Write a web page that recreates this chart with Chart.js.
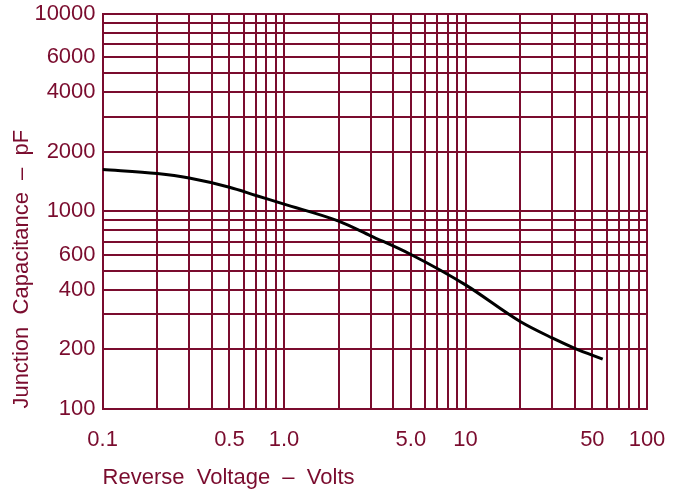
<!DOCTYPE html>
<html>
<head>
<meta charset="utf-8">
<script src="https://cdn.jsdelivr.net/npm/chart.js@4"></script>
<style>
  html, body { margin: 0; padding: 0; background: #fff; }
</style>
</head>
<body>
<canvas id="capChart" width="683" height="493"></canvas>
<script>
// curve
const voltage = [0.1, 0.2, 0.3, 0.5, 0.7, 1.0, 2.0, 3.0, 5.0, 10, 20, 30, 40, 57];
const capacitance = [1625, 1550, 1470, 1320, 1200, 1085, 890, 750, 603, 423, 276, 228, 202, 178];

// grid lines and tick labels
const xGrid = [0.1, 0.2, 0.3, 0.4, 0.5, 0.6, 0.7, 0.8, 0.9, 1, 2, 3, 4, 5, 6, 7, 8, 9, 10, 20, 30, 40, 50, 60, 70, 80, 90, 100];
const yGrid = [100, 200, 300, 400, 500, 600, 700, 800, 900, 1000, 2000, 3000, 4000, 5000, 6000, 7000, 8000, 9000, 10000];
const xTickValues = [0.1, 0.5, 1, 5, 10, 50, 100];
const xTickText = ['0.1', '0.5', '1.0', '5.0', '10', '50', '100'];
const yTickValues = [100, 200, 400, 600, 1000, 2000, 4000, 6000, 10000];

const maroon = '#7a0c2e';
const font = "'Liberation Sans', Arial, sans-serif";

new Chart(document.getElementById('capChart'), {
  type: 'line',
  data: {
    datasets: [{
      data: voltage.map((v, i) => ({ x: v, y: capacitance[i] })),
      borderColor: '#000',
      borderWidth: 3,
      pointRadius: 0,
      cubicInterpolationMode: 'monotone',
      fill: false
    }]
  },
  options: {
    responsive: false,
    animation: false,
    devicePixelRatio: 1,
    layout: { padding: { top: 0, right: 36, left: 0, bottom: 0 } },
    plugins: { legend: { display: false }, tooltip: { enabled: false } },
    scales: {
      x: {
        type: 'logarithmic',
        min: 0.1,
        max: 100,
        afterBuildTicks: (scale) => { scale.ticks = xGrid.map(v => ({ value: v })); },
        grid: { color: maroon, lineWidth: 2, drawTicks: false },
        border: { color: maroon, width: 2 },
        ticks: {
          autoSkip: false,
          maxRotation: 0,
          padding: 9,
          color: maroon,
          font: { family: font, size: 22, lineHeight: 2 },
          callback: (v) => {
            const i = xTickValues.findIndex(t => Math.abs(t - v) < 1e-9);
            return i >= 0 ? xTickText[i] : '';
          }
        },
        title: {
          display: true,
          text: 'Reverse  Voltage  \u2013  Volts',
          align: 'start',
          color: maroon,
          font: { family: font, size: 22 },
          padding: { top: -6, bottom: 2 }
        }
      },
      y: {
        type: 'logarithmic',
        min: 100,
        max: 10000,
        afterBuildTicks: (scale) => { scale.ticks = yGrid.map(v => ({ value: v })); },
        grid: { color: maroon, lineWidth: 2, drawTicks: false },
        border: { color: maroon, width: 2 },
        ticks: {
          autoSkip: false,
          padding: 7,
          color: maroon,
          font: { family: font, size: 22, lineHeight: 0.6 },
          callback: (v) => yTickValues.includes(v) ? String(v) : ''
        },
        title: {
          display: true,
          text: 'Junction  Capacitance  \u2013  pF',
          align: 'start',
          color: maroon,
          font: { family: font, size: 22 },
          padding: { top: 9, bottom: -8 }
        }
      }
    }
  }
});
</script>
</body>
</html>
